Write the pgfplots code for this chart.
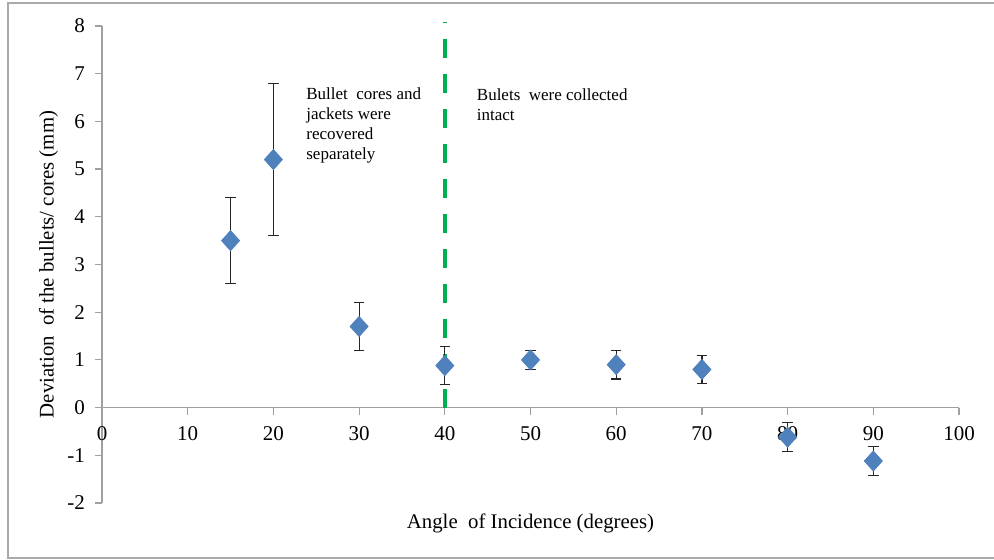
\documentclass[border=0pt]{standalone}
\usepackage{pgfplots}
\pgfplotsset{compat=1.18}
\usepackage{fontspec}
\setmainfont{Liberation Serif}
\definecolor{mkblue}{HTML}{4F81BD}
\definecolor{axgray}{HTML}{A0A0A0}
\definecolor{dgreen}{HTML}{00B050}
\begin{document}
\begin{tikzpicture}
\path[use as bounding box] (-51pt,-28.5pt) rectangle (446pt,251.5pt);
\draw[color=axgray!90, line width=0.8pt] (446pt,250pt) -- (-47pt,250pt) -- (-47pt,-27.5pt) -- (446pt,-27.5pt);
\begin{axis}[
  at={(0,0)}, anchor=south west,
  scale only axis, width=428.5pt, height=238.5pt,
  xmin=0, xmax=100, ymin=-2, ymax=8,
  axis x line=middle, axis y line=left,
  axis line style={color=axgray, line width=0.6pt, -},
  hide obscured x ticks=false, hide obscured y ticks=false,
  xtick={0,10,...,100}, ytick={-2,-1,...,8},
  tick align=outside, major tick length=3.5pt,
  tick style={color=axgray, line width=0.6pt},
  tick label style={font=\fontsize{10.5}{12}\selectfont, /pgf/number format/assume math mode=true},
  xticklabel style={yshift=-2.5pt},
  yticklabel style={xshift=-1.5pt},
  clip=false,
  every axis x label/.style={at={(axis description cs:0.5,0)}, anchor=north, yshift=-2pt},
  every axis y label/.style={at={(axis description cs:-0.043,0.5)}, rotate=90, anchor=south},
  xlabel={Angle\ \ of Incidence (degrees)},
  ylabel={Deviation\ \ of the bullets/ cores (mm)},
  label style={font=\fontsize{10.4}{12}\selectfont},
]
\addplot[color=dgreen, line width=2pt, dash pattern=on 9.5pt off 8pt] coordinates {(40,0) (40,8.08)};
\addplot[only marks, mark=diamond*, mark size=5pt, color=mkblue, mark options={xscale=1.2},
  error bars/.cd, y dir=both, y explicit,
  error bar style={color=black!85, line width=0.6pt},
  error mark options={rotate=90, mark size=2.6pt, color=black!85, line width=0.6pt}]
  coordinates {
  (15,3.5) +- (0,0.9)
  (20,5.2) +- (0,1.6)
  (30,1.7) +- (0,0.5)
  (40,0.88) +- (0,0.4)
  (50,1.0) +- (0,0.2)
  (60,0.9) +- (0,0.3)
  (70,0.8) +- (0,0.3)
  (80,-0.62) +- (0,0.3)
  (90,-1.12) +- (0,0.3)
  };
\node[anchor=north west, inner sep=0pt, align=left, font=\fontsize{8.5}{10}\selectfont] at (axis cs:23.8,6.72) {Bullet\ \ cores and\\jackets were\\recovered\\separately};
\node[anchor=north west, inner sep=0pt, align=left, font=\fontsize{8.5}{10}\selectfont] at (axis cs:43.7,6.7) {Bulets\ \ were collected\\intact};
\end{axis}
\end{tikzpicture}
\end{document}
